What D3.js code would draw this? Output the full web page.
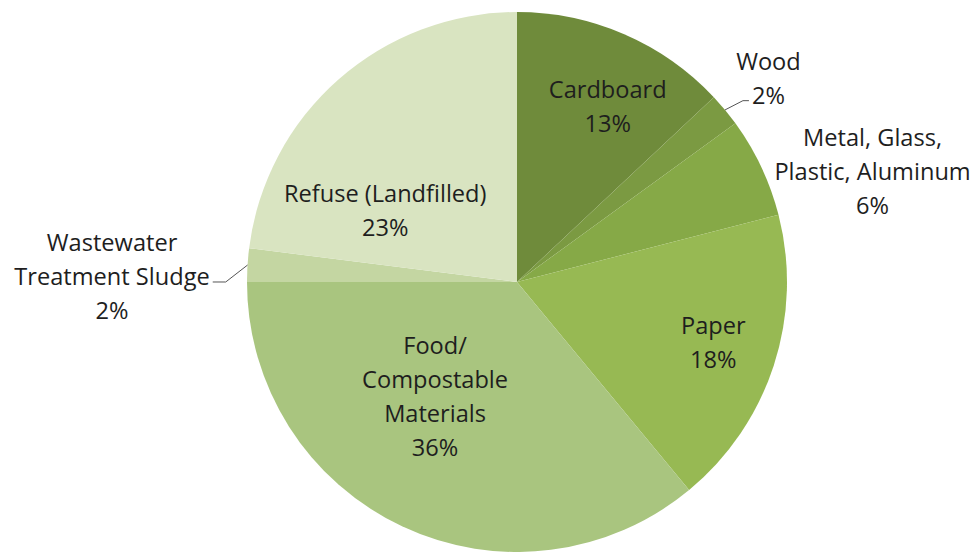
<!DOCTYPE html>
<html><head><meta charset="utf-8">
<script src="https://cdn.jsdelivr.net/npm/d3@7"></script>
<style>html,body{margin:0;padding:0;background:#fff}</style>
</head><body>
<svg id="chart" width="976" height="552"></svg>
<script>
// ---- data ----
const categories = ["Cardboard","Wood","Metal, Glass, Plastic, Aluminum","Paper","Food/ Compostable Materials","Wastewater Treatment Sludge","Refuse (Landfilled)"];
const labelLines = [["Cardboard"],["Wood"],["Metal, Glass,","Plastic, Aluminum"],["Paper"],["Food/","Compostable","Materials"],["Wastewater","Treatment Sludge"],["Refuse (Landfilled)"]];
const values = [13,2,6,18,36,2,23];
const percentLabels = ["13%","2%","6%","18%","36%","2%","23%"];

// ---- styles / layout ----
const colors = ["#6f8b3b","#7b9a42","#86a947","#97b953","#a9c57f","#c4d6a2","#d9e4c1"];
// label block centre, polar: angle (deg clockwise from 12 o'clock), distance in radii
const labelPolar = [[27.2,0.735],[50.9,1.2],[72.6,1.38],[106.9,0.76],[215.7,0.52],[270.85,1.5],[298.6,0.556]];
const leaderLine = [null,{line:1,side:"left"},null,null,null,{line:1,side:"right"},null];

const W = 976, H = 552;
const cx = 517, cy = 282, R = 270;
const fontSize = 23.6, lineH = 34;

const svg = d3.select("#chart");
const g = svg.append("g").attr("transform", `translate(${cx},${cy})`);

const pie = d3.pie().sort(null).value(d => d)(values);
const arc = d3.arc().innerRadius(0).outerRadius(R);

g.selectAll("path.slice").data(pie).join("path")
  .attr("class","slice")
  .attr("d", arc)
  .attr("fill", (d,i) => colors[i]);

const toRad = a => a * Math.PI / 180;
pie.forEach((d,i) => {
  const [ang, f] = labelPolar[i];
  const lx = Math.sin(toRad(ang)) * R * f;
  const ly = -Math.cos(toRad(ang)) * R * f;
  const lines = labelLines[i].concat([percentLabels[i]]);
  const n = lines.length;
  const t = g.append("text")
    .attr("font-family","'Open Sans', sans-serif")
    .attr("font-size", fontSize)
    .attr("fill","#1e1e1e")
    .attr("text-anchor","middle");
  const tspans = [];
  lines.forEach((s,k) => {
    const ts = t.append("tspan")
      .attr("x", lx)
      .attr("y", ly + (k - (n-1)/2) * lineH)
      .attr("dominant-baseline","central")
      .text(s);
    tspans.push(ts);
  });
  const ll = leaderLine[i];
  if (ll) {
    const mid = (d.startAngle + d.endAngle) / 2;
    const p0 = [Math.sin(mid) * R, -Math.cos(mid) * R];
    const w = tspans[ll.line].node().getComputedTextLength();
    const yAtt = ly + (ll.line - (n-1)/2) * lineH + 6;
    const xEnd = ll.side === "left" ? lx - w/2 - 3 : lx + w/2 + 3;
    const xElbow = ll.side === "left" ? xEnd - 6 : xEnd + 13;
    g.append("path")
      .attr("d", d3.line()([p0, [xElbow, yAtt], [xEnd, yAtt]]))
      .attr("fill","none")
      .attr("stroke","#555")
      .attr("stroke-width",1);
  }
});
</script>
</body></html>
